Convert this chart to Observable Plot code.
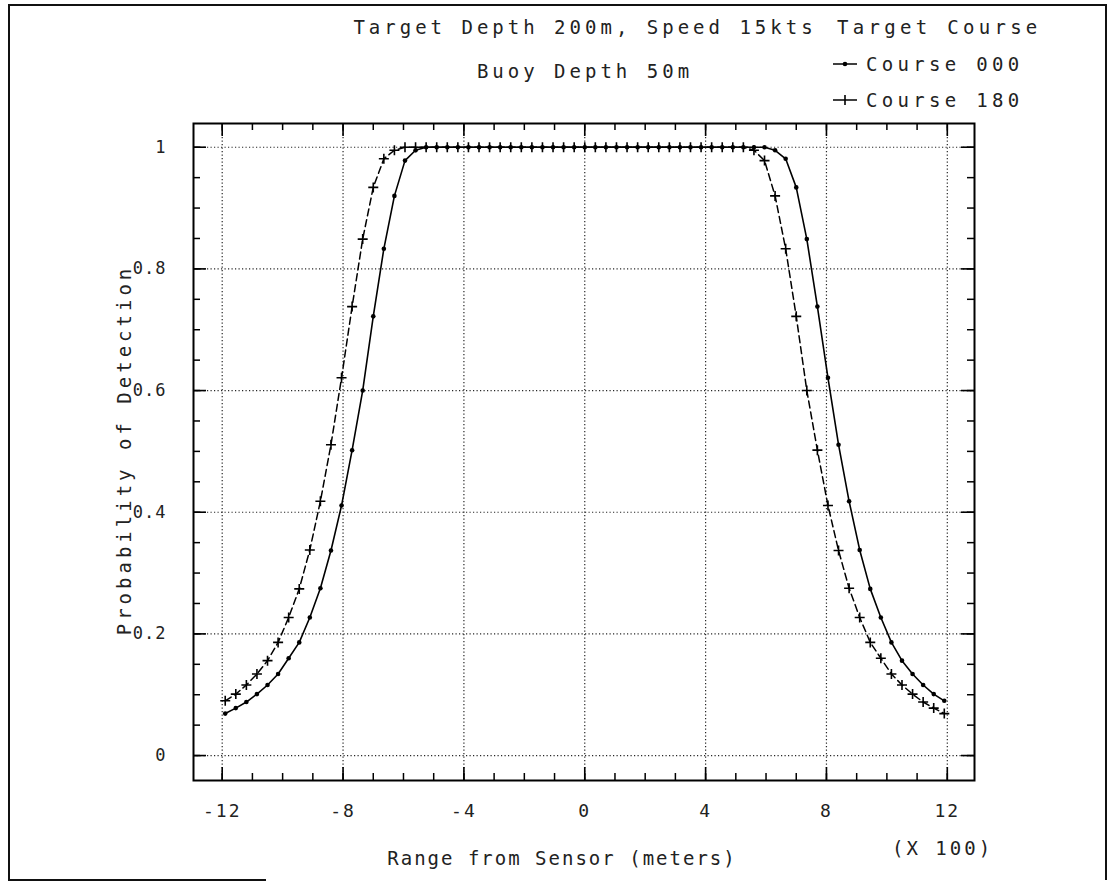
<!DOCTYPE html>
<html>
<head>
<meta charset="utf-8">
<script src="https://cdn.jsdelivr.net/npm/d3@7"></script>
<script src="https://cdn.jsdelivr.net/npm/@observablehq/plot@0.6"></script>
<style>
  html, body { margin: 0; padding: 0; background: #fff; }
  #wrap { position: relative; width: 1114px; height: 883px; overflow: hidden; background: #fff; }
  #wrap svg { position: absolute; left: 0; top: 0; }
  .t { position: absolute; font-family: "DejaVu Sans Mono", monospace; font-size: 19px; letter-spacing: 4px; color: #222; white-space: nowrap; line-height: 1; }
  .bd { position: absolute; background: #111; }
  g[aria-label="y-axis tick label"] { letter-spacing: 1px; font-size: 17px; }
  g[aria-label="x-axis tick label"] { letter-spacing: 2px; font-size: 18px; }
</style>
</head>
<body>
<div id="wrap"></div>
<script>
// Range from sensor, in hundreds of meters
const ranges = [-11.9,-11.55,-11.2,-10.85,-10.5,-10.15,-9.8,-9.45,-9.1,-8.75,-8.4,-8.05,-7.7,-7.35,-7,-6.65,-6.3,-5.95,-5.6,-5.25,-4.9,-4.55,-4.2,-3.85,-3.5,-3.15,-2.8,-2.45,-2.1,-1.75,-1.4,-1.05,-0.7,-0.35,0,0.35,0.7,1.05,1.4,1.75,2.1,2.45,2.8,3.15,3.5,3.85,4.2,4.55,4.9,5.25,5.6,5.95,6.3,6.65,7,7.35,7.7,8.05,8.4,8.75,9.1,9.45,9.8,10.15,10.5,10.85,11.2,11.55,11.9];
// Probability of detection, Course 000
const pd000 = [0.069,0.078,0.088,0.101,0.116,0.134,0.160,0.186,0.227,0.275,0.337,0.411,0.502,0.600,0.722,0.833,0.920,0.978,0.995,
  1,1,1,1,1,1,1,1,1,1,1,1,1,1,1,1,1,1,1,1,1,1,1,1,1,1,1,1,1,1,1,1,1,
  0.995,0.981,0.934,0.849,0.738,0.621,0.511,0.418,0.338,0.274,0.227,0.186,0.156,0.134,0.116,0.101,0.090];
// Probability of detection, Course 180
const pd180 = [0.090,0.101,0.116,0.134,0.156,0.186,0.227,0.274,0.338,0.418,0.511,0.621,0.738,0.849,0.934,0.981,0.995,
  1,1,1,1,1,1,1,1,1,1,1,1,1,1,1,1,1,1,1,1,1,1,1,1,1,1,1,1,1,1,1,1,1,
  0.995,0.978,0.920,0.833,0.722,0.600,0.502,0.411,0.337,0.275,0.227,0.186,0.160,0.134,0.116,0.101,0.088,0.078,0.069];
const seriesNames = ["Course 000", "Course 180"];
const xMajor = [-12,-8,-4,0,4,8,12];
const xMinor = [-12,-11,-10,-9,-8,-7,-6,-5,-4,-3,-2,-1,0,1,2,3,4,5,6,7,8,9,10,11,12];
const yMajor = [0,0.2,0.4,0.6,0.8,1];
const yMinor = [0,0.05,0.1,0.15,0.2,0.25,0.3,0.35,0.4,0.45,0.5,0.55,0.6,0.65,0.7,0.75,0.8,0.85,0.9,0.95,1];
const xTickLabels = ["-12","-8","-4","0","4","8","12"];
const yTickLabels = ["0","0.2","0.4","0.6","0.8","1"];
const titleLines = ["Target Depth 200m, Speed 15kts", "Buoy Depth 50m"];
const legendTitle = "Target Course";
const xLabel = "Range from Sensor (meters)";
const xUnit = "(X 100)";
const yLabel = "Probability of Detection";

const d000 = ranges.map((r, i) => ({r, p: pd000[i], s: seriesNames[0]}));
const d180 = ranges.map((r, i) => ({r, p: pd180[i], s: seriesNames[1]}));

const W = 1114, H = 883, mL = 193, mR = 140, mT = 123, mB = 103;
const fw = W - mL - mR, fh = H - mT - mB;
const majorLen = 13, minorLen = 7;

const plusSymbol = {
  draw(ctx, size) {
    const r = Math.sqrt(size / Math.PI);
    ctx.moveTo(-r, 0); ctx.lineTo(r, 0);
    ctx.moveTo(0, -r); ctx.lineTo(0, r);
  }
};

const chart = Plot.plot({
  width: W, height: H,
  marginLeft: mL, marginRight: mR, marginTop: mT, marginBottom: mB,
  x: {domain: [-12.95, 12.9]},
  y: {domain: [-0.041, 1.039]},
  style: {background: "transparent", fontFamily: "DejaVu Sans Mono", fontSize: "19px", color: "#222"},
  marks: [
    Plot.gridX(xMajor, {stroke: "#000", strokeOpacity: 0.85, strokeWidth: 1.2, strokeDasharray: "1.2,2.3"}),
    Plot.gridY(yMajor, {stroke: "#000", strokeOpacity: 0.85, strokeWidth: 1.2, strokeDasharray: "1.2,2.3"}),
    // tick marks, inward on all four sides
    Plot.ruleX(xMinor, {insetTop: fh - minorLen, stroke: "#000", strokeWidth: 1.5}),
    Plot.ruleX(xMinor, {insetBottom: fh - minorLen, stroke: "#000", strokeWidth: 1.5}),
    Plot.ruleX(xMajor, {insetTop: fh - majorLen, stroke: "#000", strokeWidth: 1.6}),
    Plot.ruleX(xMajor, {insetBottom: fh - majorLen, stroke: "#000", strokeWidth: 1.6}),
    Plot.ruleY(yMinor, {insetRight: fw - minorLen, stroke: "#000", strokeWidth: 1.5}),
    Plot.ruleY(yMinor, {insetLeft: fw - minorLen, stroke: "#000", strokeWidth: 1.5}),
    Plot.ruleY(yMajor, {insetRight: fw - majorLen, stroke: "#000", strokeWidth: 1.6}),
    Plot.ruleY(yMajor, {insetLeft: fw - majorLen, stroke: "#000", strokeWidth: 1.6}),
    Plot.frame({stroke: "#000", strokeWidth: 2}),
    // series
    Plot.line(d000, {x: "r", y: "p", stroke: "#000", strokeWidth: 1.6}),
    Plot.line(d180, {x: "r", y: "p", stroke: "#000", strokeWidth: 1.5, strokeDasharray: "7,4"}),
    Plot.dot(d000, {x: "r", y: "p", r: 2.3, fill: "#000", stroke: "none"}),
    Plot.dot(d180, {x: "r", y: "p", r: 5, symbol: plusSymbol, stroke: "#000", strokeWidth: 1.6, fill: "none"}),
    Plot.axisX(xMajor, {tickSize: 0, tickPadding: 24, label: null, fill: "#222",
      tickFormat: (d) => xTickLabels[xMajor.indexOf(d)]}),
    Plot.axisY(yMajor, {tickSize: 0, tickPadding: 27, label: null, fill: "#222",
      tickFormat: (d) => yTickLabels[yMajor.indexOf(d)]})
  ]
});

const wrap = document.getElementById("wrap");
wrap.appendChild(chart);

function addText(txt, left, top, transform, spacing) {
  const el = document.createElement("div");
  el.className = "t";
  el.textContent = txt;
  el.style.left = left + "px";
  el.style.top = top + "px";
  el.style.transform = transform || "translate(-50%, -50%)";
  if (spacing != null) el.style.letterSpacing = spacing + "px";
  wrap.appendChild(el);
  return el;
}
addText(titleLines[0], 585, 27, null, 4);
addText(titleLines[1], 585, 71, null, 4);
addText(legendTitle, 837, 27, "translate(0, -50%)", 4.3);
addText(seriesNames[0], 866, 64, "translate(0, -50%)", 4.3);
addText(seriesNames[1], 866, 100, "translate(0, -50%)", 4.3);
addText(xLabel, 562, 858, null, 2);
addText(xUnit, 892, 848, "translate(0, -50%)", 3);
addText(yLabel, 124, 450, "translate(-50%, -50%) rotate(-90deg)", 4);

// legend symbols
const ns = "http://www.w3.org/2000/svg";
function legendSym(y, kind) {
  const s = document.createElementNS(ns, "svg");
  s.setAttribute("width", 30); s.setAttribute("height", 14);
  s.style.position = "absolute"; s.style.left = "830px"; s.style.top = (y - 7) + "px";
  const ln = document.createElementNS(ns, "line");
  ln.setAttribute("x1", 3); ln.setAttribute("x2", 27); ln.setAttribute("y1", 7); ln.setAttribute("y2", 7);
  ln.setAttribute("stroke", "#000"); ln.setAttribute("stroke-width", 1.5);
  s.appendChild(ln);
  if (kind === "dot") {
    const c = document.createElementNS(ns, "circle");
    c.setAttribute("cx", 15); c.setAttribute("cy", 7); c.setAttribute("r", 2.3); c.setAttribute("fill", "#000");
    s.appendChild(c);
  } else {
    const p = document.createElementNS(ns, "path");
    p.setAttribute("d", "M15,2V12");
    p.setAttribute("stroke", "#000"); p.setAttribute("stroke-width", 1.6);
    s.appendChild(p);
  }
  wrap.appendChild(s);
}
legendSym(64, "dot");
legendSym(100, "plus");

// outer border of the page
function bd(l, t, w, h) {
  const e = document.createElement("div");
  e.className = "bd";
  e.style.left = l + "px"; e.style.top = t + "px"; e.style.width = w + "px"; e.style.height = h + "px";
  wrap.appendChild(e);
}
bd(8, 4, 1098, 2);
bd(8, 4, 2, 876);
bd(1105, 4, 2, 876);
bd(8, 879, 258, 2);
</script>
</body>
</html>
